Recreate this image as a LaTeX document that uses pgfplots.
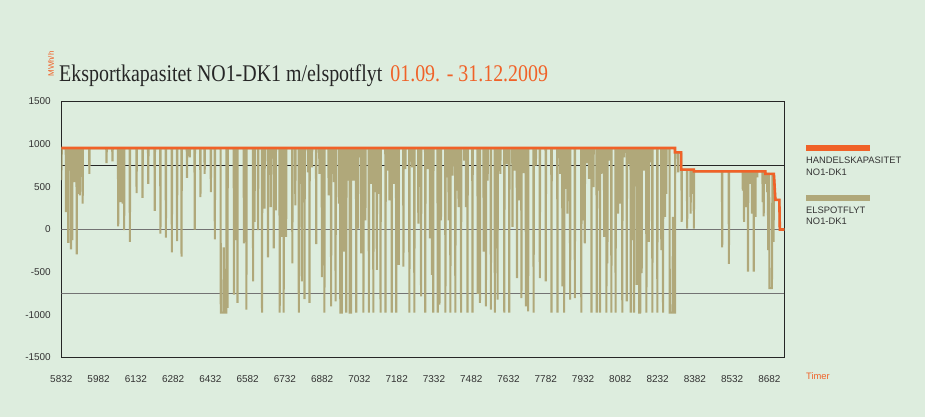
\documentclass[border=0pt]{standalone}
\usepackage{fontspec}
\setmainfont{Liberation Serif}
\newfontfamily\lsans{Liberation Sans}
\usepackage{pgfplots}
\pgfplotsset{compat=1.18}
\definecolor{bg}{RGB}{221,237,222}
\definecolor{orng}{RGB}{240,98,40}
\definecolor{tanc}{RGB}{176,168,122}
\definecolor{txt}{RGB}{51,51,51}
\begin{document}
\begin{tikzpicture}[x=1bp,y=1bp]
\fill[bg] (0bp,0bp) rectangle (925bp,417bp);
\begin{axis}[at={(61.3bp,59.5bp)}, anchor=south west,
  width=723bp, height=256bp, scale only axis,
  xmin=5832, xmax=8742, ymin=-1500, ymax=1500,
  xtick={5832,5982,6132,6282,6432,6582,6732,6882,7032,7182,7332,7482,7632,7782,7932,8082,8232,8382,8532,8682},
  xticklabels={5832,5982,6132,6282,6432,6582,6732,6882,7032,7182,7332,7482,7632,7782,7932,8082,8232,8382,8532,8682},
  ytick={-1500,-1000,-500,0,500,1000,1500},
  yticklabels={-1500,-1000,-500,0,500,1000,1500},
  major tick length=0pt,
  ticklabel style={font=\lsans\fontsize{10}{12}\selectfont, text=txt},
  xticklabel style={yshift=-15bp},
  yticklabel style={xshift=-7bp},
  axis line style={black!85, line width=0.8pt},
  clip=true,
]
\draw[black!85, line width=0.8pt] (axis cs:5832,750) -- (axis cs:8742,750);
\draw[black!55, line width=1.2pt] (axis cs:5832,0) -- (axis cs:8742,0);
\draw[black!55, line width=1.2pt] (axis cs:5832,-750) -- (axis cs:8742,-750);
% Elspotflyt NO1-DK1
\addplot[tanc, line width=2.1pt, line join=miter, sharp plot] coordinates {
(5832,580)(5834,950)
(5850,950)(5851,205)(5852,950)(5855,950)(5856,341)(5857,950)(5859,950)(5860,-156)(5861,950)
(5870,950)(5871,-233)(5872,950)(5875,950)(5876,-125)(5877,950)(5883,950)(5884,554)(5885,950)
(5893,950)(5894,-291)(5895,950)(5902,950)(5903,418)(5904,950)(5906,950)(5907,399)(5908,950)
(5917,950)(5918,302)(5919,950)(5944,950)(5945,651)(5946,950)(6013,950)(6014,779)(6015,950)
(6037,950)(6038,798)(6039,950)(6060,950)(6061,38)(6062,950)(6070,950)(6071,321)(6072,950)
(6078,950)(6079,302)(6080,950)(6084,950)(6085,-8)(6086,950)(6107,950)(6108,-144)(6109,950)
(6134,950)(6135,426)(6136,950)(6158,950)(6159,372)(6160,950)(6181,950)(6182,534)(6183,950)
(6207,950)(6208,217)(6209,950)(6230,950)(6231,-47)(6232,950)(6252,950)(6253,-94)(6254,950)
(6276,950)(6277,-268)(6278,950)(6297,950)(6298,-136)(6299,950)(6315,950)(6316,-318)(6317,950)
(6337,950)(6338,604)(6339,950)(6348,950)(6349,845)(6350,950)(6368,950)(6369,0)(6370,950)
(6391,950)(6392,379)(6393,950)(6408,950)(6409,651)(6410,950)(6433,950)(6434,438)(6435,950)
(6449,950)(6450,-117)(6451,950)
(6473,950)(6474,-975)(6484,-975)(6486,-210)(6488,-975)(6496,-975)(6497,950)
(6500,950)(6501,-919)(6502,950)(6526,950)(6527,-764)(6528,950)(6536,950)(6537,-125)(6538,950)
(6540,950)(6541,-861)(6542,950)(6566,950)(6567,-163)(6568,950)(6576,950)(6577,-939)(6578,950)
(6603,950)(6604,-609)(6605,950)(6609,950)(6610,89)(6611,950)(6623,950)(6624,-8)(6625,950)
(6639,950)(6640,-975)(6641,950)(6649,950)(6650,244)(6651,950)(6663,950)(6664,-326)(6665,950)
(6674,950)(6675,263)(6676,950)(6686,950)(6687,-222)(6688,950)(6694,950)(6695,224)(6696,950)
(6710,950)(6711,-975)(6712,950)(6719,950)(6720,-86)(6721,950)(6726,950)(6727,-975)(6728,950)
(6736,950)(6737,-86)(6738,950)(6761,950)(6762,-396)(6763,950)(6773,950)(6774,282)(6775,950)
(6787,950)(6788,-975)(6789,950)(6794,950)(6795,534)(6796,950)(6799,950)(6800,-609)(6801,950)
(6810,950)(6811,-815)(6812,950)(6824,950)(6825,670)(6826,950)(6830,950)(6831,-861)(6832,950)
(6840,950)(6841,728)(6842,950)(6857,950)(6858,-171)(6859,950)(6870,950)(6871,651)(6872,950)
(6880,950)(6881,-559)(6882,950)(6890,950)(6891,-975)(6892,950)(6907,950)(6908,399)(6909,950)
(6917,950)(6918,-900)(6919,950)(6928,950)(6929,554)(6930,950)(6935,950)(6936,-842)(6937,950)
(6948,950)(6949,302)(6950,950)(6954,950)(6955,-975)(6961,-975)(6962,950)
(6968,950)(6969,-260)(6970,950)(6978,950)(6979,-975)(6980,950)(6984,950)(6985,573)(6986,950)
(6992,950)(6993,-975)(6998,-975)(6999,950)
(7007,950)(7008,573)(7009,950)(7018,950)(7019,-975)(7020,950)(7025,950)(7026,11)(7027,950)
(7035,950)(7036,845)(7037,950)(7038,950)(7039,-280)(7040,950)(7047,950)(7048,-975)(7049,950)
(7055,950)(7056,108)(7057,950)(7069,950)(7070,-975)(7071,950)(7078,950)(7079,534)(7080,950)
(7087,950)(7088,-975)(7089,950)(7095,950)(7096,438)(7097,950)(7101,950)(7102,-474)(7103,950)
(7109,950)(7110,418)(7111,950)(7116,950)(7117,-975)(7118,950)(7136,950)(7137,-975)(7138,950)
(7145,950)(7146,690)(7147,950)(7152,950)(7153,341)(7154,950)(7161,950)(7162,-975)(7163,950)
(7169,950)(7170,534)(7171,950)(7179,950)(7180,-975)(7181,950)(7189,950)(7190,-415)(7191,950)
(7208,950)(7209,-435)(7210,950)(7216,950)(7217,709)(7218,950)(7232,950)(7233,-975)(7234,950)
(7243,950)(7244,728)(7245,950)(7252,950)(7253,-975)(7254,950)(7268,950)(7269,69)(7270,950)
(7279,950)(7280,-784)(7281,950)(7296,950)(7297,-975)(7298,950)(7306,950)(7307,709)(7308,950)
(7315,950)(7316,-105)(7317,950)(7323,950)(7324,-532)(7325,950)(7328,950)(7329,-975)(7330,950)
(7346,950)(7347,-975)(7348,950)(7353,950)(7354,-881)(7355,950)(7359,950)(7360,108)(7361,950)
(7377,950)(7378,-975)(7379,950)(7383,950)(7384,612)(7385,950)(7390,950)(7391,108)(7392,950)
(7397,950)(7398,-975)(7399,950)(7406,950)(7407,631)(7408,950)(7417,950)(7418,-975)(7419,950)
(7422,950)(7423,457)(7424,950)(7430,950)(7431,263)(7432,950)(7440,950)(7441,-975)(7442,950)
(7453,950)(7454,806)(7455,950)(7460,950)(7461,263)(7462,950)(7466,950)(7467,-975)(7468,950)
(7486,950)(7487,-975)(7488,950)(7507,950)(7508,-753)(7509,950)(7516,950)(7517,-861)(7518,950)
(7531,950)(7532,-260)(7533,950)(7540,950)(7541,-900)(7542,950)(7547,950)(7548,573)(7549,950)
(7560,950)(7561,-939)(7562,950)(7576,950)(7577,-975)(7578,950)(7587,950)(7588,-822)(7589,950)
(7598,950)(7599,651)(7600,950)(7614,950)(7615,-975)(7616,950)(7623,950)(7624,767)(7625,950)
(7634,950)(7635,-975)(7636,950)(7647,950)(7648,30)(7649,950)(7657,950)(7658,690)(7659,950)
(7665,950)(7666,-570)(7667,950)(7674,950)(7675,341)(7676,950)(7683,950)(7684,-803)(7685,950)
(7691,950)(7692,662)(7693,950)(7701,950)(7702,-900)(7703,950)(7710,950)(7711,-958)(7712,950)
(7732,950)(7733,-975)(7734,950)(7741,950)(7742,748)(7743,950)(7757,950)(7758,-570)(7759,950)
(7781,950)(7782,-609)(7783,950)(7804,950)(7805,-975)(7806,950)(7828,950)(7829,-975)(7830,950)
(7839,950)(7840,651)(7841,950)(7848,950)(7849,-667)(7850,950)(7855,950)(7856,-975)(7857,950)
(7862,950)(7863,476)(7864,950)(7868,950)(7869,186)(7870,950)(7879,950)(7880,-822)(7881,950)
(7898,950)(7899,-803)(7900,950)(7924,950)(7925,-975)(7926,950)(7933,950)(7934,108)(7935,950)
(7938,950)(7939,-163)(7940,950)(7946,950)(7947,779)(7948,950)(7955,950)(7956,593)(7957,950)
(7965,950)(7966,-975)(7967,950)(7973,950)(7974,496)(7975,950)(7986,950)(7987,-975)(7988,950)
(7991,950)(7992,457)(7993,950)(7999,950)(8000,-975)(8001,950)(8005,950)(8006,651)(8007,950)
(8016,950)(8017,-86)(8018,950)(8025,950)(8026,-975)(8027,950)(8029,950)(8030,-396)(8031,950)
(8036,950)(8037,806)(8038,950)(8045,950)(8046,-975)(8047,950)(8062,950)(8063,-975)(8064,950)
(8072,950)(8073,186)(8074,950)(8080,950)(8081,302)(8082,950)(8089,950)(8090,-975)(8091,950)
(8096,950)(8097,845)(8098,950)(8107,950)(8108,-842)(8109,950)(8113,950)(8114,767)(8115,950)
(8123,950)(8124,-975)(8125,950)(8129,950)(8130,-125)(8131,950)(8136,950)(8137,-975)(8138,950)
(8147,950)(8148,-648)(8150,950)(8152,950)(8153,-512)(8154,950)
(8157,950)(8158,-975)(8162,-975)(8163,950)
(8167,950)(8168,-512)(8169,950)(8176,950)(8177,690)(8178,950)(8186,950)(8187,-975)(8188,950)
(8196,950)(8197,-144)(8198,950)(8203,950)(8204,786)(8205,950)(8210,950)(8211,-975)(8212,950)
(8230,950)(8231,-975)(8232,950)(8246,950)(8247,-241)(8248,950)(8253,950)(8254,-975)(8255,950)
(8261,950)(8262,147)(8263,950)(8266,950)(8267,418)(8268,950)
(8280,950)(8281,-975)(8292,-975)(8294,147)(8296,-975)(8302,-975)(8303,903)
(8314,903)(8315,670)(8316,903)(8327,903)(8328,701)(8329,89)(8330,701)(8350,701)(8351,11)(8352,701)
(8364,701)(8365,186)(8366,701)(8370,701)(8371,418)(8372,701)(8377,701)(8378,11)(8379,682)
(8491,682)(8492,-210)(8493,682)(8518,682)(8519,-404)(8520,682)(8574,682)(8575,457)(8576,682)
(8579,682)(8580,89)(8581,682)(8587,682)(8588,263)(8589,682)(8595,682)(8596,-493)(8597,682)
(8605,682)(8606,534)(8607,682)(8611,682)(8612,186)(8613,682)(8618,682)(8619,-493)(8620,682)
(8625,682)(8626,147)(8627,682)(8632,682)(8633,612)(8634,682)(8654,682)(8655,321)(8656,682)
(8658,682)(8659,155)(8660,682)(8665,682)(8666,534)(8667,651)(8672,651)(8673,438)(8674,651)
(8676,651)(8677,-241)(8678,651)(8681,651)(8682,-687)(8692,-687)(8693,-318)(8694,651)
(8698,651)(8699,-144)(8700,651)(8702,554)(8706,348)(8722,348)(8724,0)(8742,0)
};
% Handelskapasitet NO1-DK1
\addplot[orng, line width=2.6pt, sharp plot] coordinates {
(5832,955)(8302,955)(8302,903)(8327,903)(8327,701)(8378,701)(8378,682)(8666,682)
(8666,651)(8700,651)(8702,554)(8706,348)(8722,348)(8724,0)(8742,0)
};
\end{axis}
% title
\node[anchor=base west, inner sep=0, yscale=1.2, transform shape, font=\fontsize{20}{24}\selectfont, text=black!85] at (59bp,335.3bp)
  {Eksportkapasitet NO1-DK1 m/elspotflyt\hspace{0.4em}\textcolor{orng}{01.09. - 31.12.2009}};
\node[rotate=90, inner sep=0, font=\lsans\fontsize{8}{9}\selectfont, text=orng] at (51bp,353bp) {MWh/h};
% legend
\draw[orng, line width=5.7bp] (806bp,269.3bp) -- (870bp,269.3bp);
\draw[tanc, line width=5.7bp] (806bp,219.3bp) -- (870bp,219.3bp);
\node[anchor=west, inner sep=0, font=\lsans\fontsize{9.4}{12}\selectfont, text=txt] at (806bp,256.3bp) {HANDELSKAPASITET};
\node[anchor=west, inner sep=0, font=\lsans\fontsize{9.4}{12}\selectfont, text=txt] at (806bp,244.3bp) {NO1-DK1};
\node[anchor=west, inner sep=0, font=\lsans\fontsize{9.4}{12}\selectfont, text=txt] at (806bp,207bp) {ELSPOTFLYT};
\node[anchor=west, inner sep=0, font=\lsans\fontsize{9.4}{12}\selectfont, text=txt] at (806bp,195.3bp) {NO1-DK1};
\node[anchor=west, inner sep=0, font=\lsans\fontsize{9.4}{12}\selectfont, text=orng] at (806bp,41.3bp) {Timer};
\end{tikzpicture}
\end{document}
